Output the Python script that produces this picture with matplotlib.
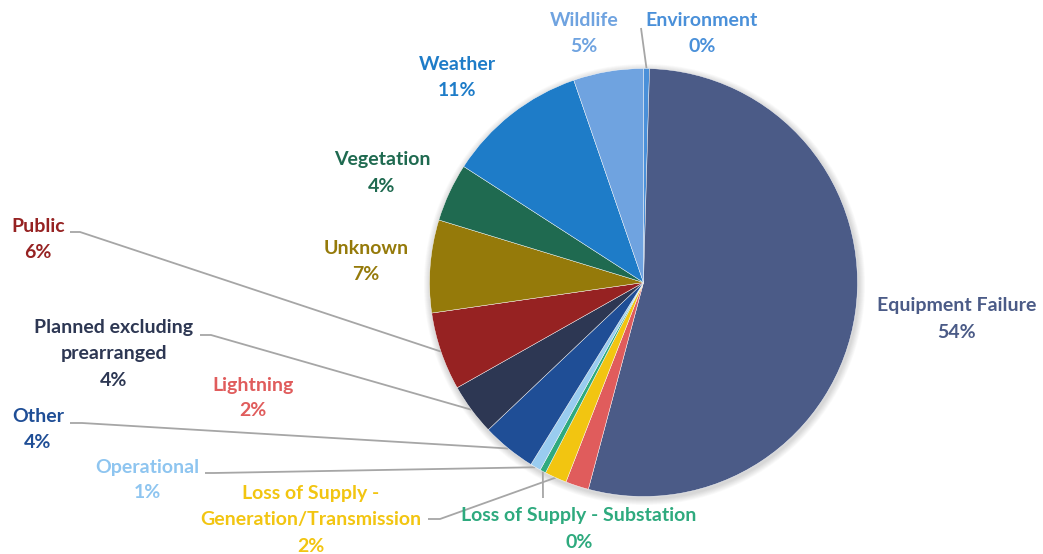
import numpy as np
import matplotlib.pyplot as plt
from matplotlib.patches import Circle

plt.rcParams['font.family'] = ['Lato', 'DejaVu Sans']

causes = ["Environment", "Equipment Failure", "Lightning",
          "Loss of Supply -\nGeneration/Transmission", "Loss of Supply - Substation",
          "Operational", "Other", "Planned excluding\nprearranged", "Public",
          "Unknown", "Vegetation", "Weather", "Wildlife"]
shares = [0.45, 53.7, 1.75, 1.67, 0.45, 0.8, 4.1, 3.9, 5.9, 7.0, 4.4, 10.6, 5.28]
colors = ["#4A90D9", "#4B5B87", "#E05C5C", "#F2C511", "#2EAA7E", "#99CCF0",
          "#1F4E96", "#2D3753", "#962222", "#957A0A", "#1F6A50", "#1E7CC8", "#6FA3E0"]

# label layout in pixels (x centre, y of first line), leader start points
label_pos = [(702, 20), (957, 306), (253, 385), (311, 494), (579, 516), (147, 467),
             (38, 416), (114, 328), (38, 226), (366, 249), (382, 160), (457, 64), (584, 20)]
leader = {0: [(641, 28)], 3: [(428, 519), (440, 519)], 4: [(543, 498)],
          5: [(205, 473), (214, 473)], 6: [(70, 423), (82, 423)],
          7: [(200, 335), (211, 335)], 8: [(70, 232), (80, 232)]}

W, H = 1043, 554
cx, cy, R = 643.5, 282.5, 214

fig = plt.figure(figsize=(W / 100, H / 100), dpi=100)
ax = fig.add_axes([0, 0, 1, 1])

# soft shadow
for i in range(8):
    ax.add_patch(Circle((cx + 1, H - cy - 2), R + 1 + i * 0.8, color="black",
                        alpha=0.018, lw=0, zorder=0))

wedges, _ = ax.pie(shares, colors=colors, startangle=90, counterclock=False,
                   radius=R, center=(cx, H - cy),
                   wedgeprops=dict(linewidth=0.3, edgecolor="white"))
for w in wedges:
    w.set_zorder(2)

for i, w in enumerate(wedges):
    mid = np.deg2rad((w.theta1 + w.theta2) / 2)
    ex, ey = cx + R * np.cos(mid), H - cy + R * np.sin(mid)
    if i in leader:
        pts = [(x, H - y) for x, y in leader[i]] + [(ex, ey)]
        xs, ys = zip(*pts)
        ax.plot(xs, ys, color="#A6A6A6", lw=1.3, zorder=1, solid_capstyle="butt")
    lines = causes[i].split("\n") + ["%d%%" % round(shares[i])]
    x0, y0 = label_pos[i]
    for k, t in enumerate(lines):
        ax.text(x0, H - (y0 + k * 26), t, ha="center", va="center",
                fontsize=14, fontweight="bold", color=colors[i] if i != 5 else "#8EC5F0")

ax.set_xlim(0, W)
ax.set_ylim(0, H)
ax.set_aspect("equal")
ax.axis("off")

plt.savefig("out.png", dpi=100)
